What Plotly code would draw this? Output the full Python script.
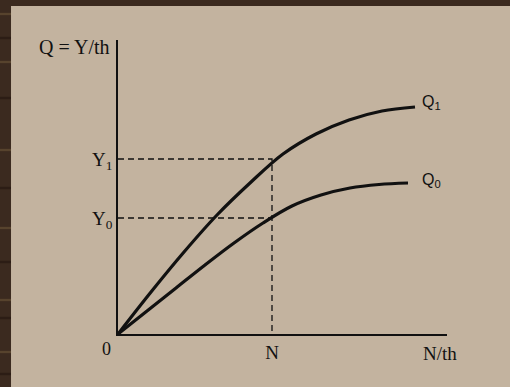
import plotly.graph_objects as go

# labour input (N/th) and output (Q)
q1_x = [0, 33, 66, 99, 132, 165, 198, 231, 264, 297]
q1_y = [0, 42, 82, 119, 151, 180, 200, 214, 223, 227]
q0_x = [0, 29, 58, 87, 116, 145, 174, 203, 232, 261, 290]
q0_y = [0, 23, 46, 69, 91, 111, 128, 139, 146, 149.5, 151]

n_val = 154
y1_val = 175
y0_val = 116
x_max = 329
y_max = 294

ink = "#111111"
serif = "Liberation Serif"

fig = go.Figure()

# dashed guide lines
fig.add_trace(go.Scatter(x=[0, n_val, n_val], y=[y1_val, y1_val, 0], mode="lines",
                         line=dict(color=ink, width=1.3, dash="6px,4px"), hoverinfo="skip"))
fig.add_trace(go.Scatter(x=[0, n_val], y=[y0_val, y0_val], mode="lines",
                         line=dict(color=ink, width=1.3, dash="6px,4px"), hoverinfo="skip"))

# production curves
fig.add_trace(go.Scatter(x=q1_x, y=q1_y, mode="lines",
                         line=dict(color=ink, width=3.2, shape="spline", smoothing=1), name="Q1"))
fig.add_trace(go.Scatter(x=q0_x, y=q0_y, mode="lines",
                         line=dict(color=ink, width=3.2, shape="spline", smoothing=1), name="Q0"))

fig.add_annotation(x=302, y=q1_y[-1], text="Q<sub>1</sub>", showarrow=False, xanchor="left",
                   yanchor="middle", yshift=5, font=dict(family="Liberation Sans", size=16, color=ink))
fig.add_annotation(x=302, y=q0_y[-1], text="Q<sub>0</sub>", showarrow=False, xanchor="left",
                   yanchor="middle", yshift=3, font=dict(family="Liberation Sans", size=16, color=ink))

fig.add_annotation(x=0, y=y_max, text="Q = Y/th", showarrow=False, xanchor="right", yanchor="middle",
                   xshift=-6, yshift=-7, font=dict(family=serif, size=20, color=ink))
fig.add_annotation(x=0, y=0, text="0", showarrow=False, xanchor="right", yanchor="top",
                   xshift=-5, yshift=-3, font=dict(family=serif, size=18, color=ink))
fig.add_annotation(x=x_max, y=0, text="N/th", showarrow=False, xanchor="center", yanchor="top",
                   xshift=-7, yshift=-7, font=dict(family=serif, size=19, color=ink))

# wood grain streaks on the dark frame (pixel rows -> paper coords)
for i, row in enumerate([14, 38, 62, 98, 150, 188, 228, 262, 300, 318, 352, 374]):
    yp = (334 - row) / 294
    fig.add_shape(type="rect", xref="paper", yref="paper", x0=-0.36, x1=-0.3252,
                  y0=yp - 0.004, y1=yp + 0.004,
                  fillcolor="#57432d" if i % 2 == 0 else "#2c1d15", line=dict(width=0), layer="below")

# beige slide panel over the dark frame
fig.add_shape(type="rect", xref="paper", yref="paper", x0=-0.3252, x1=1.3, y0=-0.2, y1=1.1156,
              fillcolor="#c3b39f", line=dict(width=0), layer="below")

fig.update_layout(
    width=510, height=387,
    margin=dict(l=118, r=63, t=40, b=53),
    paper_bgcolor="#3b2a1f",
    plot_bgcolor="rgba(0,0,0,0)",
    showlegend=False,
    xaxis=dict(range=[0, x_max], showgrid=False, zeroline=False, showline=True, linecolor=ink,
               linewidth=1.5, tickvals=[n_val], ticktext=["N"], ticks="",
               tickfont=dict(family=serif, size=19, color=ink), fixedrange=True),
    yaxis=dict(range=[0, y_max], showgrid=False, zeroline=False, showline=True, linecolor=ink,
               linewidth=1.5, tickvals=[y0_val, y1_val], ticktext=["Y<sub>0</sub>", "Y<sub>1</sub>"],
               ticks="", tickfont=dict(family=serif, size=19, color=ink), fixedrange=True),
)

fig.write_html("out.html", config={"displayModeBar": False},
               post_script="document.body.style.margin='0';")
